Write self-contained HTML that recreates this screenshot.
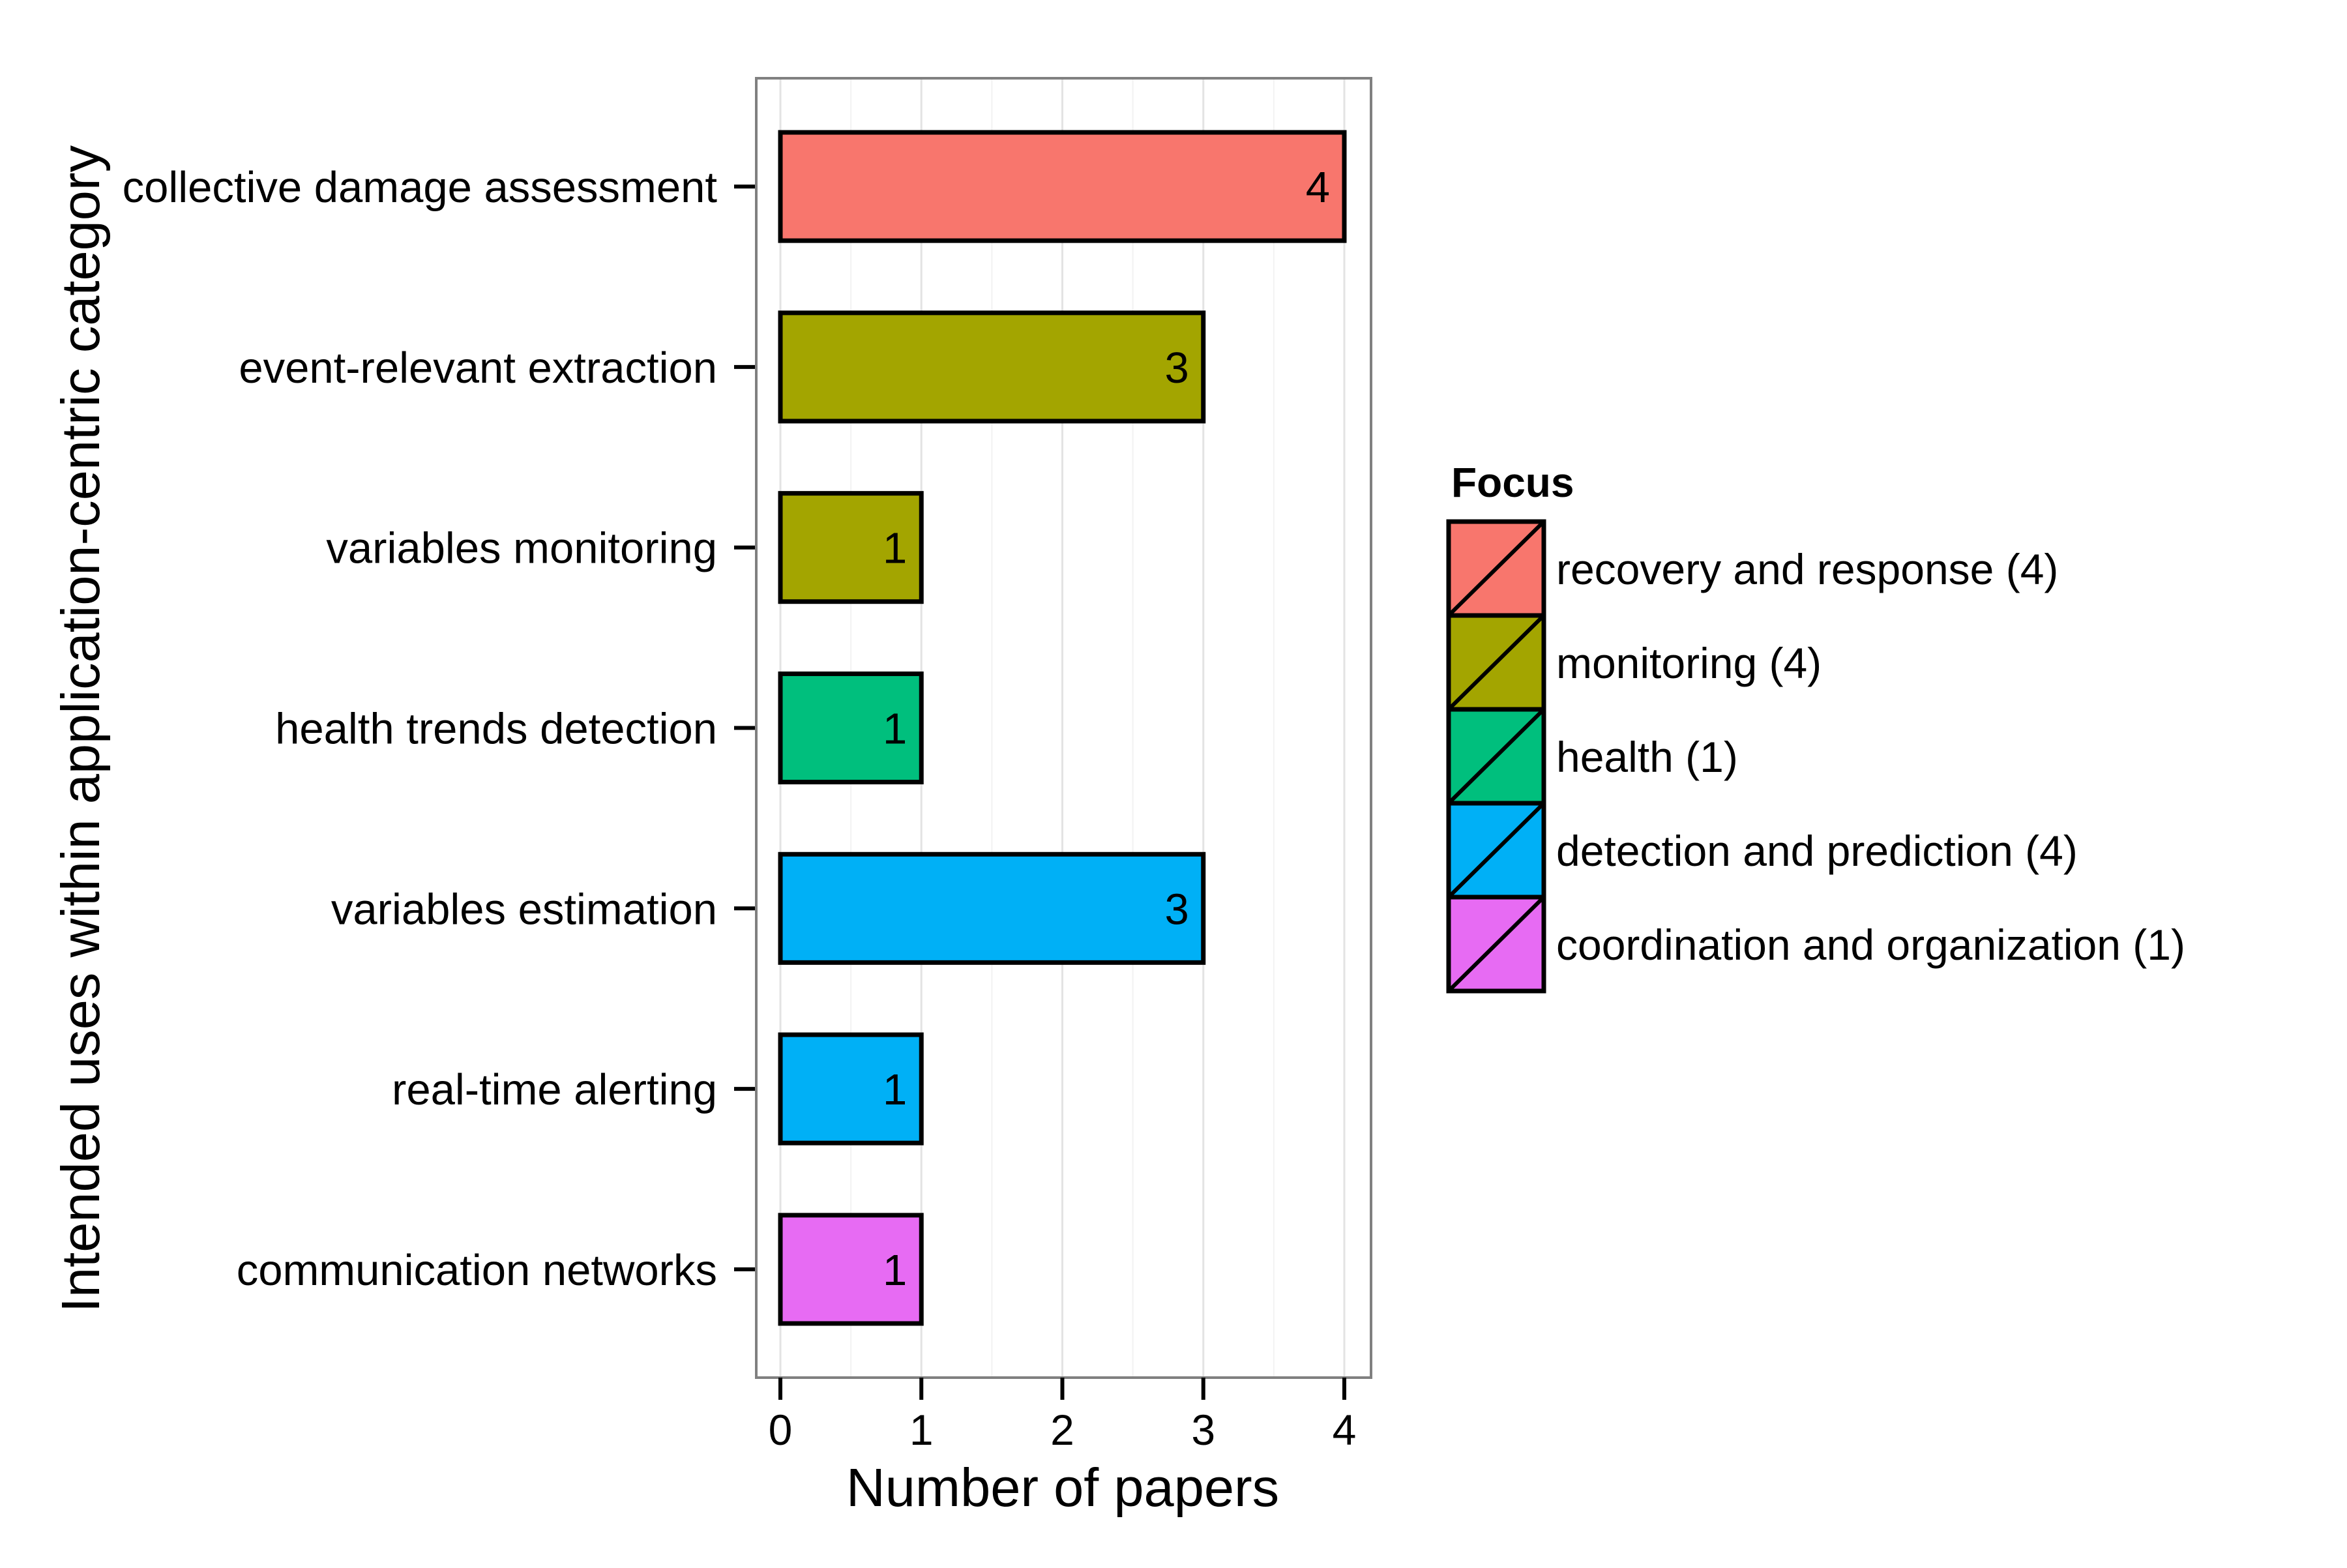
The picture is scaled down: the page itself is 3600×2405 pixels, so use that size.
<!DOCTYPE html>
<html><head><meta charset="utf-8"><style>
html,body{margin:0;padding:0;background:#fff}
svg text{font-family:"Liberation Sans",sans-serif}
</style></head><body>
<svg id="chart" width="3600" height="2400" xmlns="http://www.w3.org/2000/svg"></svg>
<script>
const categories = ["collective damage assessment","event-relevant extraction","variables monitoring","health trends detection","variables estimation","real-time alerting","communication networks"];
const values = [4,3,1,1,3,1,1];
const barFocus = [0,1,1,2,3,3,4];
const focusLabels = ["recovery and response (4)","monitoring (4)","health (1)","detection and prediction (4)","coordination and organization (1)"];
const focusColors = ["#F8766D","#A3A500","#00BF7D","#00B0F6","#E76BF3"];
const xTicks = [0,1,2,3,4];

const NS="http://www.w3.org/2000/svg";
const svg=document.getElementById('chart');
function el(t,a,p){const e=document.createElementNS(NS,t);for(const k in a)e.setAttribute(k,a[k]);(p||svg).appendChild(e);return e;}
const P={l:1160,r:2103,t:120,b:2113};
const x0=1197,xUnit=(2062-1197)/4;
const xs=v=>x0+v*xUnit;
const catStep=(P.b-P.t)/(categories.length-1+1.2);
const ys=i=>P.t+catStep*(0.6+i);
const barH=catStep*0.6;

// grid
for(let v=0.5;v<4;v+=1){const g=el('line',{x1:xs(v),x2:xs(v),y1:P.t,y2:P.b,stroke:'#f2f2f2','stroke-width':2});

}
xTicks.forEach(v=>{const g=el('line',{x1:xs(v),x2:xs(v),y1:P.t,y2:P.b,stroke:'#e3e3e3','stroke-width':3});

});

// bars
categories.forEach((c,i)=>{
  const r=el('rect',{x:xs(0),y:ys(i)-barH/2,width:xs(values[i])-xs(0),height:barH,fill:focusColors[barFocus[i]],stroke:'#000','stroke-width':7});
  
  
  const t=el('text',{x:xs(values[i])-22,y:ys(i)+24,'font-size':67,'text-anchor':'end',fill:'#000'});
  t.textContent=values[i];
  
  
  const tk=el('line',{x1:P.l-34,x2:P.l,y1:ys(i),y2:ys(i),stroke:'#000','stroke-width':6});
  
  
  const yl=el('text',{x:P.l-60,y:ys(i)+24,'font-size':67,'text-anchor':'end',fill:'#000'});
  yl.textContent=c;
  
  
});
// panel border
const pb=el('rect',{x:P.l,y:P.t,width:P.r-P.l,height:P.b-P.t,fill:'none',stroke:'#808080','stroke-width':4});



xTicks.forEach(v=>{
  const tk=el('line',{x1:xs(v),x2:xs(v),y1:P.b,y2:P.b+34,stroke:'#000','stroke-width':6});
  
  
  const t=el('text',{x:xs(v),y:2216,'font-size':66,'text-anchor':'middle',fill:'#000'});
  t.textContent=v;
  
  
});
const xt=el('text',{x:1630,y:2310,'font-size':83,'text-anchor':'middle',fill:'#000'});
xt.textContent='Number of papers';


const yt=el('text',{x:0,y:0,'font-size':83,'text-anchor':'middle',fill:'#000',transform:'translate(152,1118) rotate(-90)'});
yt.textContent='Intended uses within application-centric category';



// legend
const lt=el('text',{x:2226,y:762,'font-size':64,'font-weight':'bold',fill:'#000'});
lt.textContent='Focus';


const kx=2222,kw=146,kh=144,ky=800;
focusLabels.forEach((l,i)=>{
  const y=ky+i*kh;
  const g=el('g',{});
  
  
  el('rect',{x:kx,y:y,width:kw,height:kh,fill:focusColors[i],stroke:'#000','stroke-width':7},g);
  el('line',{x1:kx,y1:y+kh,x2:kx+kw,y2:y,stroke:'#000','stroke-width':6},g);
  const t=el('text',{x:2387,y:y+kh/2+24,'font-size':66,fill:'#000'},g);
  t.textContent=l;
});
</script>
</body></html>
